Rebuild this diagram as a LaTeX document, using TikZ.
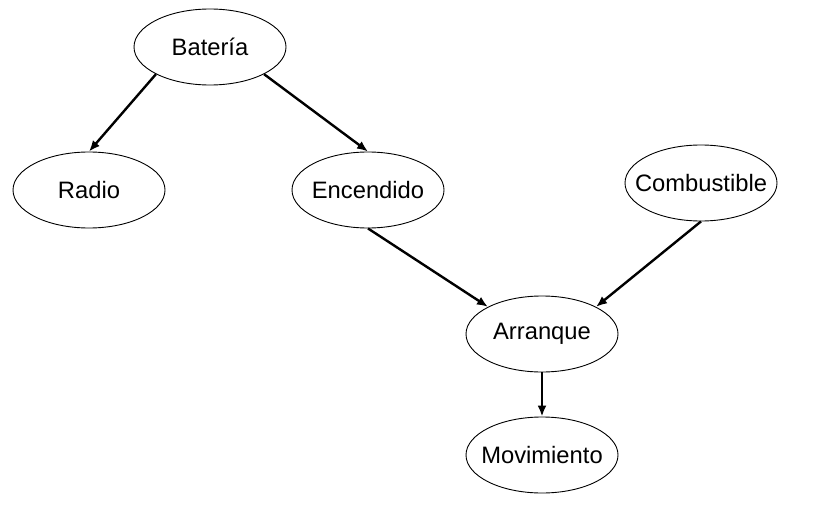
\documentclass[tikz,border=0pt]{standalone}
\usepackage{fontspec}
\setmainfont{Liberation Sans}
\usetikzlibrary{arrows.meta,shapes}

\begin{document}
\begin{tikzpicture}[x=1pt,y=-1pt,
  var/.style={ellipse, draw, line width=0.9pt, minimum width=152pt, minimum height=76pt,
    inner xsep=-45pt, inner ysep=0pt, font=\fontsize{23.75}{28}\selectfont},
  link/.style={-{Latex[length=11pt,width=9pt]}, line width=2.4pt}]
\useasboundingbox (0,0) rectangle (834,516);

\node[var] (bat) at (210,47) {Batería};

\node[var] (radio) at (89,190) {Radio};
\node[var] (enc) at (368,190) {Encendido};
\node[var] (comb) at (701,183) {Combustible};

\node[var] (arr) at (542,334) {Arranque};
\node[var] (mov) at (542,455) {Movimiento};

\draw[link] (bat.south west) -- (radio.north);
\draw[link] (bat.south east) -- (enc.north);
\draw[link] (enc.south) -- (arr.north west);
\draw[link] (comb.south) -- (arr.north east);

\draw[link] (arr.south) -- (mov.north);

\end{tikzpicture}
\end{document}
